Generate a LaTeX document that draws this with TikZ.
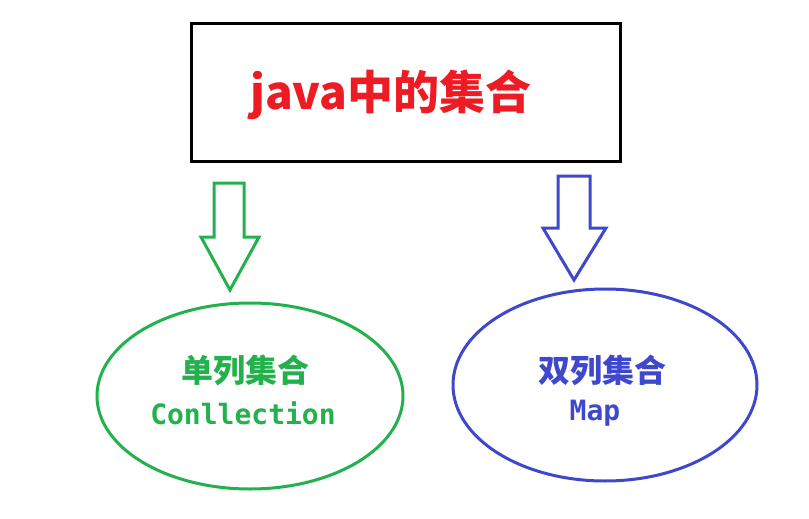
\documentclass[tikz,border=0pt]{standalone}
\usepackage{fontspec}
\newfontfamily\cjk{Noto Sans CJK SC}
\setmonofont{DejaVu Sans Mono}
\usepackage{tikz}
\definecolor{jred}{RGB}{237,28,36}
\definecolor{jgreen}{RGB}{34,177,76}
\definecolor{jblue}{RGB}{63,72,204}
\begin{document}
\begin{tikzpicture}[x=1pt,y=-1pt,line width=3pt]
\useasboundingbox (0,0) rectangle (809,519);

% title box
\draw (191,24) rectangle (620,161);
\node (title) at (391,95) [text=jred,font=\cjk\bfseries\fontsize{46}{52}\selectfont] {java中的集合};

% block arrows
\draw [jgreen] (214,183) -- (244,183) -- (244,237) -- (259,237) -- (230,290) -- (201,237) -- (214,237) -- cycle;
\draw [jblue] (558,176) -- (590,176) -- (590,228) -- (606,228) -- (574,280) -- (543,228) -- (558,228) -- cycle;

% ellipses
\draw [jgreen] (250,396) ellipse [x radius=153,y radius=93];
\draw [jblue] (605,385) ellipse [x radius=152,y radius=96];

% Text Node
\node (single) at (245,370) [text=jgreen,font=\cjk\bfseries\fontsize{32}{38}\selectfont] {单列集合};
% Text Node
\node (coll) at (243,413) [text=jgreen,font=\ttfamily\bfseries\fontsize{28}{32}\selectfont] {Conllection};
% Text Node
\node (double) at (602,370) [text=jblue,font=\cjk\bfseries\fontsize{32}{38}\selectfont] {双列集合};
% Text Node
\node (map) at (595,413) [text=jblue,font=\ttfamily\bfseries\fontsize{28}{32}\selectfont] {Map};
\end{tikzpicture}
\end{document}
